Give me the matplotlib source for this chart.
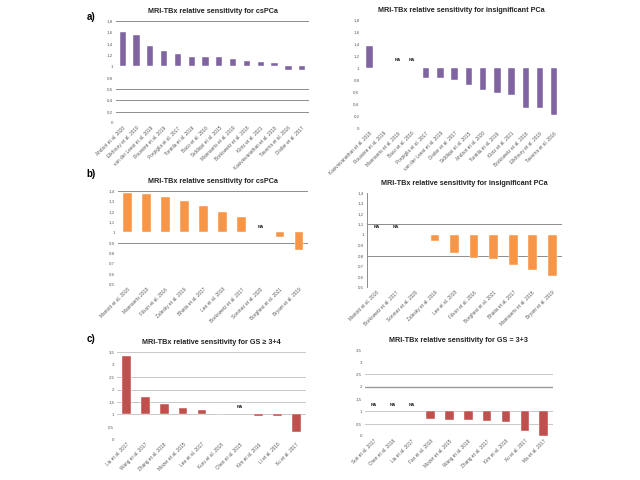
import matplotlib.pyplot as plt

# --- data (relative sensitivity, baseline = 1) ---
a1_names = ["Ahdoot et al. 2020", "Elkhoury et al. 2019", "van der Leest et al. 2019",
            "Rouvière et al. 2019", "Porpiglia et al. 2017", "Tonttila et al. 2016",
            "Baco et al. 2016", "Siddiqui et al. 2015", "Mannaerts et al. 2019",
            "Borkowetz et al. 2018", "Klotz et al. 2021", "Kasivisvanathan et al. 2018",
            "Taverna et al. 2016", "Distler et al. 2017"]
a1_vals = [1.60, 1.55, 1.35, 1.27, 1.22, 1.16, 1.16, 1.16, 1.13, 1.10, 1.08, 1.05, 0.94, 0.93]

a2_names = ["Kasivisvanathan et al. 2018", "Rouvière et al. 2019", "Mannaerts et al. 2019",
            "Baco et al. 2016", "Porpiglia et al. 2017", "van der Leest et al. 2019",
            "Distler et al. 2017", "Siddiqui et al. 2015", "Ahdoot et al. 2020",
            "Tonttila et al. 2016", "Klotz et al. 2021", "Borkowetz et al. 2018",
            "Elkhoury et al. 2019", "Taverna et al. 2016"]
a2_vals = [1.37, 1.0, None, None, 0.83, 0.83, 0.81, 0.72, 0.63, 0.58, 0.55, 0.33, 0.33, 0.22]

b1_names = ["Mariotti et al. 2018", "Mannaerts 2018", "Filson et al. 2016",
            "Zalesky et al. 2019", "Bhatia et al. 2017", "Lee et al. 2018",
            "Borkowetz et al. 2017", "Sonmez et al. 2020", "Borghesi et al. 2021",
            "Bryant et al. 2019"]
b1_vals = [1.385, 1.37, 1.34, 1.30, 1.26, 1.20, 1.15, None, 0.96, 0.83]

b2_names = ["Mariotti et al. 2018", "Borkowetz et al. 2017", "Sonmez et al. 2020",
            "Zalesky et al. 2019", "Lee et al. 2018", "Filson et al. 2016",
            "Borghesi et al. 2021", "Bhatia et al. 2017", "Mannaerts et al. 2018",
            "Bryant et al. 2019"]
b2_vals = [None, None, 1.0, 0.94, 0.83, 0.78, 0.77, 0.71, 0.66, 0.61]

c1_names = ["Liu et al. 2017", "Wang et al. 2017", "Zhang et al. 2018", "Mozer et al. 2015",
            "Lee et al. 2017", "Kuru et al. 2018", "Chen et al. 2015", "Kim et al. 2016",
            "Li et al. 2016", "Xu et al. 2017"]
c1_vals = [3.34, 1.72, 1.43, 1.25, 1.17, 1.03, None, 0.95, 0.95, 0.31]

c2_names = ["Sun et al. 2017", "Chen et al. 2016", "Liu et al. 2017", "Fan et al. 2018",
            "Mozer et al. 2015", "Wang et al. 2018", "Zhang et al. 2017", "Kim et al. 2018",
            "Xu et al. 2017", "Ma et al. 2017"]
c2_vals = [None, None, None, 0.69, 0.66, 0.66, 0.60, 0.58, 0.19, 0.01]

ticks_ab = [1.8, 1.6, 1.4, 1.2, 1.0, 0.8, 0.6, 0.4, 0.2, 0.0]
ticks_ab_lbl = ["1,8", "1,6", "1,4", "1,2", "1", "0,8", "0,6", "0,4", "0,2", "0"]
ticks_b = [1.4, 1.3, 1.2, 1.1, 1.0, 0.9, 0.8, 0.7, 0.6, 0.5]
ticks_b_lbl = ["1,4", "1,3", "1,2", "1,1", "1", "0,9", "0,8", "0,7", "0,6", "0,5"]
ticks_c = [3.5, 3.0, 2.5, 2.0, 1.5, 1.0, 0.5, 0.0]
ticks_c_lbl = ["3,5", "3", "2,5", "2", "1,5", "1", "0,5", "0"]

purple = "#8064A2"
orange = "#F79646"
red = "#C0504D"

plt.rcParams['font.family'] = ['Liberation Sans', 'DejaVu Sans']

fig = plt.figure(figsize=(6.4, 4.8), dpi=100)


def panel(rect, names, vals, color, ticks, tick_lbl, grid, title, gridcolor="#8c8c8c",
          leftspine=False, na_y=None, darkgrid=()):
    ax = fig.add_axes(rect)
    x = list(range(len(names)))
    for i, v in enumerate(vals):
        if v is None:
            ax.text(i, na_y, "NA", ha="center", va="center", fontsize=3.2,
                    fontweight="bold", color="#222222")
        else:
            ax.bar(i, v - 1, bottom=1, width=0.45, color=color, edgecolor="#ffffff",
                   linewidth=0.3, zorder=3)
    for g in grid:
        ax.axhline(g, color=gridcolor, lw=0.7, zorder=1)
    for g in darkgrid:
        ax.axhline(g, color="#999999", lw=1.0, zorder=1)
    ax.set_ylim(min(ticks), max(ticks))
    ax.set_xlim(-0.5, len(names) - 0.5)
    ax.set_yticks(ticks)
    ax.set_yticklabels(tick_lbl, fontsize=3.2, color="#5a5a5a")
    ax.set_xticks(x)
    ax.set_xticklabels(names, rotation=45, ha="right", rotation_mode="anchor",
                       fontsize=3.4, color="#5a5a5a")
    ax.tick_params(length=0, pad=2)
    for s in ax.spines.values():
        s.set_visible(False)
    if leftspine:
        ax.spines["left"].set_visible(True)
        ax.spines["left"].set_color("#8c8c8c")
        ax.spines["left"].set_linewidth(0.7)
    ax.set_title(title, fontsize=5.2, fontweight="bold", color="#222222", pad=6)
    ax.patch.set_alpha(0)
    return ax


panel([0.181, 0.744, 0.302, 0.2125], a1_names, a1_vals, purple, ticks_ab, ticks_ab_lbl,
      [1.8, 0.6, 0.4, 0.2], "MRI-TBx relative sensitivity for csPCa")
panel([0.566, 0.733, 0.311, 0.225], a2_names, a2_vals, purple, ticks_ab, ticks_ab_lbl,
      [], "MRI-TBx relative sensitivity for insignificant PCa", na_y=1.14)
panel([0.184, 0.408, 0.298, 0.194], b1_names, b1_vals, orange, ticks_b, ticks_b_lbl,
      [1.4, 0.9], "MRI-TBx relative sensitivity for csPCa", na_y=1.05)
panel([0.573, 0.402, 0.305, 0.196], b2_names, b2_vals, orange, ticks_b, ticks_b_lbl,
      [1.1, 0.8], "MRI-TBx relative sensitivity for insignificant PCa",
      leftspine=True, na_y=1.07)
panel([0.183, 0.085, 0.295, 0.181], c1_names, c1_vals, red, ticks_c, ticks_c_lbl,
      [3.5, 2.5, 2.0, 1.5, 1.0], "MRI-TBx relative sensitivity for GS \u2265 3+4",
      gridcolor="#c8c8c8", na_y=1.3)
panel([0.570, 0.092, 0.294, 0.179], c2_names, c2_vals, red, ticks_c, ticks_c_lbl,
      [2.5, 1.0, 0.5], "MRI-TBx relative sensitivity for GS = 3+3",
      gridcolor="#c8c8c8", na_y=1.25, darkgrid=[2.0])

fig.text(0.135, 0.958, "a)", fontsize=7, fontweight="bold")
fig.text(0.135, 0.632, "b)", fontsize=7, fontweight="bold")
fig.text(0.135, 0.288, "c)", fontsize=7, fontweight="bold")

fig.savefig("out.png", dpi=100, facecolor="white")
